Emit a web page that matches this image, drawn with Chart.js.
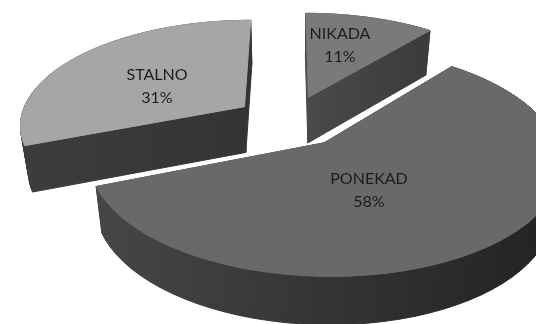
<!DOCTYPE html>
<html>
<head>
<meta charset="utf-8">
<title>Pie 3D</title>
<style>
  html, body { margin: 0; padding: 0; background: #fff; }
  canvas { display: block; filter: blur(0.5px); }
</style>
<script src="https://cdn.jsdelivr.net/npm/chart.js@4/dist/chart.umd.js"></script>
</head>
<body>
<canvas id="chart" width="536" height="324"></canvas>
<script>
const categories = ["NIKADA", "PONEKAD", "STALNO"];
const values = [11, 58, 31];

const topColors = ["#7a7a7a", "#696969", "#a6a6a6"];
const wallLeft = ["#4a4a4a", "#464646", "#3d3d3d"];
const wallRight = ["#3b3b3b", "#222222", "#343434"];
const labelPos = [[340, 34, 57], [369, 179, 202], [157, 75, 98]];

// fitted by eye against the picture
const view = { x: 290, y: 121, rx: 225, ry: 104.4, persp: 0.16, explode: 0.25 };

function project(u, v) {
  const s = 1 / (1 - view.persp * v);
  return { x: view.x + view.rx * u * s, y: view.y + view.ry * v * s, s };
}

// same point on the bottom of the pie
function lower(p) {
  return { x: view.x + (p.x - view.x) * 0.97, y: p.y + 36 + 10 * p.s };
}

class Arc3D extends Chart.ArcElement {
  draw(ctx) {
    const mid = (this.startAngle + this.endAngle) / 2;
    const ou = Math.cos(mid) * view.explode;
    const ov = Math.sin(mid) * view.explode;

    const outline = [project(ou, ov)];
    const steps = 60;
    for (let i = 0; i <= steps; i++) {
      const a = this.startAngle + (this.endAngle - this.startAngle) * i / steps;
      outline.push(project(ou + Math.cos(a), ov + Math.sin(a)));
    }

    const xs = outline.map(p => p.x);
    const grad = ctx.createLinearGradient(Math.min(...xs), 0, Math.max(...xs), 0);
    grad.addColorStop(0, wallLeft[this.$context.dataIndex]);
    grad.addColorStop(1, wallRight[this.$context.dataIndex]);

    // side walls, top face goes over them
    ctx.save();
    ctx.fillStyle = grad;
    ctx.strokeStyle = grad;
    ctx.lineWidth = 1;
    outline.forEach((p, i) => {
      const q = outline[(i + 1) % outline.length];
      const a = lower(p);
      const b = lower(q);
      ctx.beginPath();
      ctx.moveTo(p.x, p.y);
      ctx.lineTo(q.x, q.y);
      ctx.lineTo(b.x, b.y);
      ctx.lineTo(a.x, a.y);
      ctx.closePath();
      ctx.fill();
      ctx.stroke();
    });

    ctx.beginPath();
    outline.forEach((p, i) => i ? ctx.lineTo(p.x, p.y) : ctx.moveTo(p.x, p.y));
    ctx.closePath();
    ctx.fillStyle = this.options.backgroundColor;
    ctx.strokeStyle = this.options.backgroundColor;
    ctx.lineWidth = 1;
    ctx.fill();
    ctx.stroke();
    ctx.restore();
  }
}
Arc3D.id = "arc3d";

class Pie3DController extends Chart.PieController {}
Pie3DController.id = "pie3d";
Pie3DController.defaults = { dataElementType: "arc3d" };

const sliceLabels = {
  id: "sliceLabels",
  afterDatasetsDraw(chart) {
    const ctx = chart.ctx;
    const total = values.reduce((a, b) => a + b, 0);
    ctx.save();
    ctx.font = "16px Lato";
    ctx.fillStyle = "#1c1c1c";
    ctx.textAlign = "center";
    ctx.textBaseline = "middle";
    categories.forEach((name, i) => {
      ctx.fillText(name, labelPos[i][0], labelPos[i][1]);
      ctx.fillText(Math.round(values[i] / total * 100) + "%", labelPos[i][0], labelPos[i][2]);
    });
    ctx.restore();
  }
};

Chart.register(Arc3D, Pie3DController);

new Chart(document.getElementById("chart"), {
  type: "pie3d",
  data: {
    labels: categories,
    datasets: [{ data: values, backgroundColor: topColors, borderWidth: 0 }]
  },
  options: {
    responsive: false,
    animation: false,
    events: [],
    plugins: { legend: { display: false }, tooltip: { enabled: false } }
  },
  plugins: [sliceLabels]
});
</script>
</body>
</html>
